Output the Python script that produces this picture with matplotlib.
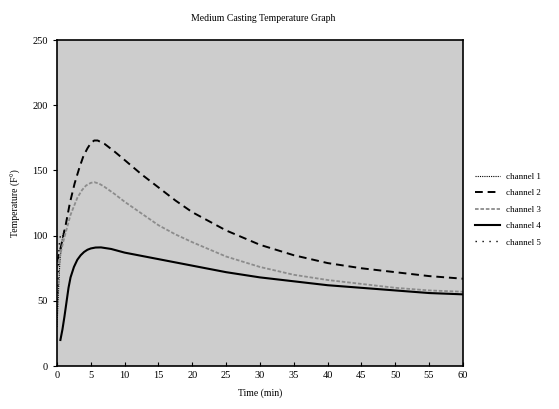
import matplotlib
matplotlib.use("Agg")
import matplotlib.pyplot as plt

plt.rcParams['font.family'] = ['Liberation Serif', 'DejaVu Serif']

title = "Medium Casting Temperature Graph"
labels = ["channel 1", "channel 2", "channel 3", "channel 4", "channel 5"]

# channel 1 / 5 barely show up near the left axis
t1 = [0.0, 0.2, 0.4, 0.7, 1.0]
ch1 = [30, 55, 78, 95, 104]
t2 = [0, 0.6, 1.2, 1.9, 2.6, 3.3, 3.9, 4.5, 5.0, 5.5, 6.0, 7, 8.5, 10, 12.5, 15, 17.5, 20, 25, 30, 35, 40, 45, 50, 55, 60]
ch2 = [80, 92, 106, 125, 140, 152, 161, 167, 171, 173, 173, 170.5, 164.5, 158, 147, 137, 127, 118, 104, 93, 85, 79, 75, 72, 69, 67]
t3 = [0, 1, 2, 3, 3.7, 4.3, 5.0, 5.5, 6.2, 7, 8.5, 10, 12.5, 15, 17.5, 20, 25, 30, 35, 40, 45, 50, 55, 60]
ch3 = [75, 97, 116, 129, 135, 138.5, 140.5, 141, 140, 137.5, 132, 126, 117, 108, 101, 95, 84, 76, 70, 66, 63, 60, 58, 57]
t4 = [0.5, 0.8, 1.1, 1.4, 1.7, 2, 2.5, 3, 3.5, 4, 4.5, 5, 5.7, 6.5, 8, 10, 15, 20, 25, 30, 35, 40, 45, 50, 55, 60]
ch4 = [20, 28, 38, 49, 60, 68, 76, 81.5, 85, 87.5, 89.2, 90.2, 90.9, 91, 89.8, 87, 82, 77, 72, 68, 65, 62, 60, 58, 56, 55]
t5 = [0.0, 0.15, 0.3, 0.5]
ch5 = [40, 68, 92, 100]

fig = plt.figure(figsize=(5.59, 4.09), dpi=100)
ax = fig.add_axes([0.102, 0.105, 0.726, 0.797])
ax.set_facecolor('#cdcdcd')

ax.plot(t1, ch1, color='black', lw=0.8, linestyle=(0, (1, 1)), label=labels[0])
ax.plot(t2, ch2, color='black', lw=1.4, linestyle=(0, (4, 2.5)), label=labels[1])
ax.plot(t3, ch3, color='#8c8c8c', lw=1.3, linestyle=(0, (2, 1)), label=labels[2])
ax.plot(t4, ch4, color='black', lw=1.5, linestyle='-', label=labels[3])
ax.plot(t5, ch5, color='black', lw=1.0, linestyle=(0, (1, 4)), label=labels[4])

ax.set_xlim(0, 60)
ax.set_ylim(0, 250)
ax.set_xticks(range(0, 61, 5))
ax.set_yticks(range(0, 251, 50))
ax.tick_params(labelsize=7.5, length=3, width=0.8, direction='in')
ax.tick_params(axis='y', direction='out')
for s in ax.spines.values():
    s.set_linewidth(1.2)

ax.set_xlabel("Time (min)", fontsize=7, labelpad=6)
ax.set_ylabel("Temperature (F°)", fontsize=7, labelpad=8)
fig.text(0.47, 0.955, title, ha='center', va='center', fontsize=7)

ax.legend(loc='center left', bbox_to_anchor=(1.01, 0.48), frameon=False,
          fontsize=6.5, handlelength=2.8, handletextpad=0.6, labelspacing=0.9)

fig.savefig("out.png", dpi=100)
